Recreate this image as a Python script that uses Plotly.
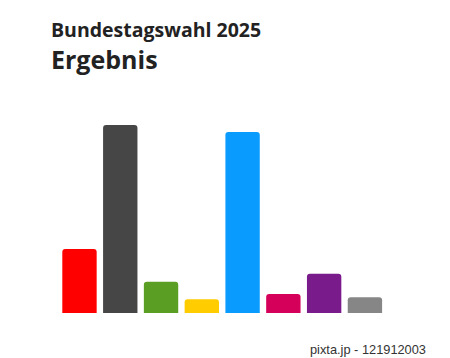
import plotly.graph_objects as go

parties = ["SPD", "CDU/CSU", "Grüne", "FDP", "AfD", "Linke", "BSW", "Sonstige"]
values = [64, 188, 31.3, 13.7, 181, 19, 39.3, 15.7]
colors = ["#FF0000", "#464646", "#5B9E24", "#FFCC00", "#0A9BFF", "#D4005A", "#7A1B8C", "#868686"]

fig = go.Figure(go.Bar(x=parties, y=values, marker=dict(color=colors, line=dict(width=0)),
                       hoverinfo="x+y"))

W, H = 450, 358
x0, x1 = 59.1, 385.3
y_top, y_bot = 113, 313

fig.update_layout(
    width=W, height=H,
    margin=dict(l=0, r=0, t=0, b=0),
    paper_bgcolor="white", plot_bgcolor="white",
    bargap=0.157,
    barcornerradius=3,
    showlegend=False,
    xaxis=dict(domain=[x0 / W, x1 / W], visible=False, range=[-0.5, 7.5]),
    yaxis=dict(domain=[1 - y_bot / H, 1 - y_top / H], visible=False, range=[0, 200]),
    annotations=[
        dict(text="<b>Bundestagswahl 2025</b>", x=49 / W, y=1 - 14 / H, xref="paper", yref="paper",
             xanchor="left", yanchor="top", showarrow=False,
             font=dict(family="Open Sans", size=19.5, color="#222222")),
        dict(text="<b>Ergebnis</b>", x=49 / W, y=1 - 40 / H, xref="paper", yref="paper",
             xanchor="left", yanchor="top", showarrow=False,
             font=dict(family="Open Sans", size=25, color="#222222")),
        dict(text="pixta.jp - 121912003", x=428 / W, y=1 - 349 / H, xref="paper", yref="paper",
             xanchor="right", yanchor="middle", showarrow=False,
             font=dict(family="Liberation Sans", size=12.8, color="#333333")),
    ],
)

fig.write_html("out.html")
